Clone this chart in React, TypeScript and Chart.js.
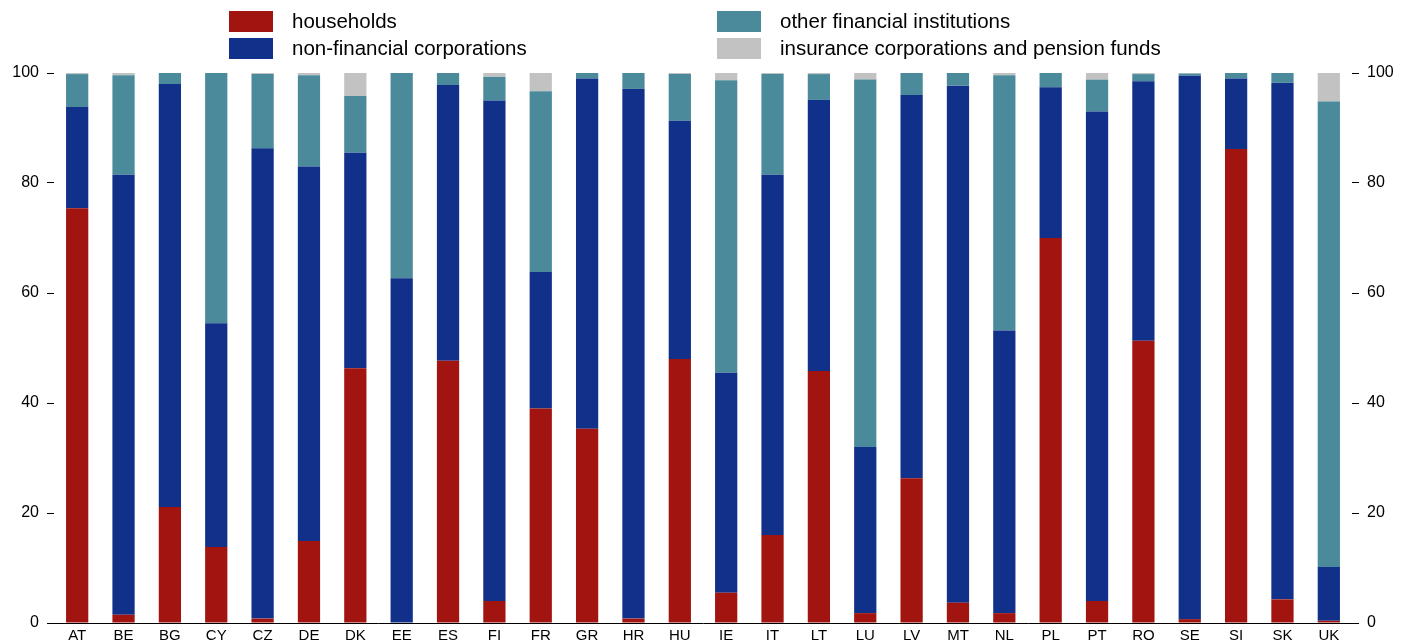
import React, { useEffect, useRef } from "react";
import { Chart, registerables } from "chart.js";
Chart.register(...registerables);

const categories = ["AT","BE","BG","CY","CZ","DE","DK","EE","ES","FI","FR","GR","HR","HU","IE","IT","LT","LU","LV","MT","NL","PL","PT","RO","SE","SI","SK","UK"];
const households = [75.4,1.5,21.1,13.8,0.8,14.9,46.3,0,47.7,4,39,35.3,0.8,48,5.5,16,45.8,1.8,26.3,3.7,1.8,70,4,51.3,0.7,86.2,4.3,0.4];
const nfcTop = [93.8,81.5,98,54.5,86.3,83,85.5,62.7,97.8,95,63.8,99,97.1,91.3,45.5,81.5,95.1,32,96,97.7,53.2,97.4,93,98.5,99.5,99,98.2,10.2];
const ofiTop = [99.8,99.6,100,100,99.8,99.6,95.8,100,100,99.3,96.7,100,100,99.8,98.7,99.8,99.8,98.8,100,100,99.6,100,98.8,99.8,99.9,100,100,94.8];
const nfc = nfcTop.map((t, i) => +(t - households[i]).toFixed(1));
const ofi = ofiTop.map((t, i) => +(t - nfcTop[i]).toFixed(1));
const insurance = ofiTop.map((t) => +(100 - t).toFixed(1));
const yTicks = [0, 20, 40, 60, 80, 100];

const colors = { hh: "#A2140F", nfc: "#10308A", ofi: "#4B8A9B", ins: "#C2C2C2" };
const legend = [
  { label: "households", color: colors.hh, x: 229, y: 9 },
  { label: "non-financial corporations", color: colors.nfc, x: 229, y: 36 },
  { label: "other financial institutions", color: colors.ofi, x: 717, y: 9 },
  { label: "insurance corporations and pension funds", color: colors.ins, x: 717, y: 36 },
];
const FONT = "'Liberation Sans', Arial, sans-serif";

export default function App() {
  const ref = useRef<HTMLCanvasElement>(null);
  useEffect(() => {
    document.body.style.margin = "0";
    const tickCfg = { color: "#000", font: { family: FONT, size: 16 }, padding: 8, callback: (v: any) => (yTicks.includes(v) ? String(v) : "") };
    const chart = new Chart(ref.current!, {
      type: "bar",
      data: {
        labels: categories,
        datasets: [
          { label: "households", data: households, backgroundColor: colors.hh },
          { label: "non-financial corporations", data: nfc, backgroundColor: colors.nfc },
          { label: "other financial institutions", data: ofi, backgroundColor: colors.ofi },
          { label: "insurance corporations and pension funds", data: insurance, backgroundColor: colors.ins },
        ].map((d) => ({ ...d, barPercentage: 0.48, categoryPercentage: 1 })),
      },
      options: {
        responsive: false,
        animation: false,
        layout: { padding: { top: 73, left: 0, right: 0, bottom: 0 } },
        plugins: { legend: { display: false }, tooltip: { enabled: false } },
        scales: {
          x: {
            stacked: true,
            afterFit: (s: any) => { s.height = 21; },
            grid: { display: false },
            border: { display: true, color: "#000" },
            ticks: { color: "#000", font: { family: FONT, size: 15 }, padding: -4, maxRotation: 0, autoSkip: false },
          },
          y: {
            stacked: true, min: 0, max: 100, position: "left",
            afterFit: (s: any) => { s.width = 54; },
            grid: { drawOnChartArea: false, drawTicks: true, tickLength: 7, color: "#000" },
            border: { display: false },
            ticks: { ...tickCfg, stepSize: 20 },
          },
          y2: {
            min: 0, max: 100, position: "right",
            afterFit: (s: any) => { s.width = 65; },
            grid: { drawOnChartArea: false, drawTicks: true, tickLength: 7, color: "#000" },
            border: { display: false },
            ticks: { ...tickCfg, stepSize: 20 },
          },
        },
      },
    });
    return () => chart.destroy();
  }, []);
  return (
    <div style={{ position: "relative", width: 1417, height: 644, fontFamily: FONT }}>
      <canvas ref={ref} width={1417} height={644} style={{ display: "block" }} />
      {legend.map((l) => (
        <div key={l.label} style={{ position: "absolute", left: l.x, top: l.y, display: "flex", alignItems: "center", fontSize: 20.5, color: "#000" }}>
          <span style={{ display: "inline-block", width: 44, height: 21, background: l.color, marginRight: 19 }} />
          <span>{l.label}</span>
        </div>
      ))}
    </div>
  );
}
